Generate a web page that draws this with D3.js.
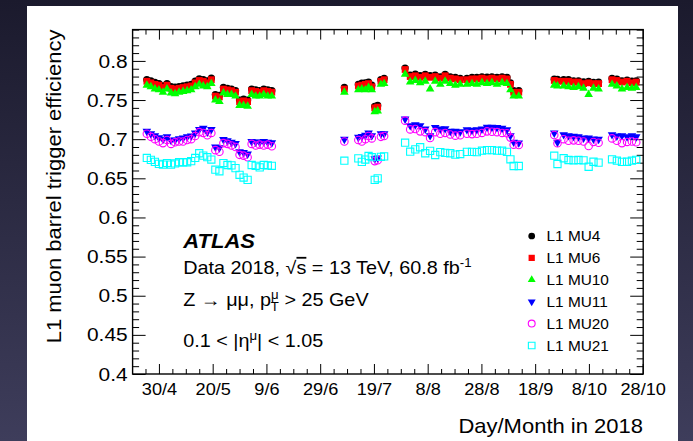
<!DOCTYPE html>
<html>
<head>
<meta charset="utf-8">
<script src="https://cdn.jsdelivr.net/npm/d3@7"></script>
<style>
  body { margin: 0; }
  text { font-family: "Liberation Sans", Arial, sans-serif; fill: #000; }
</style>
</head>
<body>
<div id="chart"></div>
<script>
//Run dates, in days counted from 30 April 2018
var days = [-4.5,-3,-1.5,0,1.5,3,4.5,6,7.5,9,10.5,12,13.5,15,16.5,18,19.5,21,22.5,24,25.5,27,28.5,30,31.5,33,34.5,36,37.5,39,40.5,42,
  69.0,74.2,75.5,76.8,78.0,79.2,80.3,81.4,82.6,83.8,
  91.6,93.5,95.4,97.2,99.1,100.9,102.8,104.7,106.5,108.4,110.3,112.1,114.6,116.5,118.3,120.2,122.1,123.9,125.8,127.7,129.5,130.8,132.0,133.9,
  147.1,148.3,150.6,152.4,154.3,156.1,158.0,159.9,161.7,163.6,168.6,170.4,172.3,174.2,176.0,177.6];

//Efficiency per trigger item
var mu4 = [.776,.7745,.7725,.771,.768,.771,.767,.7665,.767,.768,.769,.770,.774,.777,.776,.7745,.778,.757,.756,.766,.765,.764,.762,.750,.751,.750,.764,.763,.762,.764,.763,.762,
  .766,.770,.7715,.772,.773,.769,.742,.743,.776,.7775,
  .7908,.7818,.7831,.781,.7826,.781,.7818,.7797,.7826,.7797,.7789,.7776,.7776,.7789,.7789,.7797,.7793,.7797,.7789,.7797,.7789,.772,.762,.762,
  .7767,.7765,.7759,.7759,.7746,.7746,.7733,.7738,.7725,.773,.7776,.7767,.7746,.7755,.774,.7746];
var mu6 = [.774,.772,.770,.769,.766,.769,.765,.764,.765,.766,.767,.768,.772,.775,.774,.772,.776,.755,.754,.764,.763,.762,.760,.748,.749,.748,.762,.761,.760,.762,.761,.760,
  .764,.768,.769,.770,.771,.767,.740,.741,.774,.776,
  .789,.780,.781,.779,.781,.779,.780,.778,.781,.778,.777,.776,.776,.777,.777,.778,.777,.778,.777,.778,.777,.770,.760,.760,
  .775,.774,.774,.774,.773,.773,.771,.772,.771,.771,.776,.775,.773,.774,.772,.773];
var mu10 = [.769,.767,.764,.763,.760,.764,.759,.758,.760,.761,.762,.763,.767,.770,.768,.767,.771,.750,.748,.759,.757,.757,.755,.743,.743,.742,.757,.755,.755,.757,.755,.755,
  .760,.763,.764,.763,.766,.763,.735,.736,.770,.771,
  .783,.773,.775,.772,.774,.764,.774,.770,.774,.771,.769,.770,.770,.771,.770,.772,.771,.772,.770,.772,.771,.763,.755,.755,
  .769,.768,.768,.767,.766,.767,.765,.757,.765,.764,.770,.768,.764,.766,.765,.766];
var mu11 = [.710,.707,.7045,.702,.700,.703,.6985,.699,.7005,.7015,.703,.704,.708,.7125,.714,.709,.7125,.690,.689,.6995,.698,.696,.6945,.684,.683,.681,.697,.6965,.696,.697,.696,.6955,
  .700,.7025,.7035,.705,.708,.7045,.675,.676,.707,.707,
  .7258,.7173,.7185,.7173,.713,.7045,.715,.713,.7135,.7101,.7101,.7095,.7122,.7115,.7122,.713,.7153,.7153,.715,.714,.7122,.7045,.6962,.6953,
  .708,.696,.7058,.7045,.7037,.703,.7016,.7016,.7003,.700,.7058,.704,.7045,.703,.7045,.703];
var mu20 = [.707,.703,.700,.697,.695,.699,.694,.696,.697,.697,.699,.700,.704,.709,.708,.705,.708,.686,.684,.695,.694,.692,.690,.680,.679,.677,.694,.692,.693,.692,.693,.691,
  .697,.699,.697,.700,.704,.701,.672,.673,.703,.704,
  .7237,.7125,.713,.710,.709,.7015,.709,.707,.708,.706,.7045,.705,.707,.7065,.707,.708,.710,.7095,.709,.708,.7075,.702,.693,.6925,
  .7054,.6948,.700,.698,.6985,.698,.697,.6913,.6965,.6955,.701,.698,.695,.6965,.697,.696];
var mu21 = [.676,.6735,.671,.6685,.6675,.6695,.6675,.669,.6705,.6705,.6705,.672,.676,.682,.679,.677,.674,.661,.659,.6695,.667,.6665,.663,.6545,.651,.648,.667,.666,.664,.667,.6665,.666,
  .6725,.6755,.671,.674,.6785,.677,.648,.650,.6775,.678,
  .6955,.684,.687,.6897,.682,.685,.6798,.6835,.6825,.682,.6802,.681,.6838,.6838,.6835,.6853,.686,.686,.6853,.6853,.6838,.6743,.6657,.6657,
  .6789,.6683,.6756,.6734,.673,.6734,.673,.6648,.6712,.670,.6743,.6725,.671,.6712,.6725,.6735];

var seriesNames = ["L1 MU4", "L1 MU6", "L1 MU10", "L1 MU11", "L1 MU20", "L1 MU21"];
var seriesValues = [mu4, mu6, mu10, mu11, mu20, mu21];

//Axis ticks
var xTickDays = [0, 20, 40, 60, 80, 100, 120, 140, 160, 180];
var xTickLabels = ["30/4", "20/5", "9/6", "29/6", "19/7", "8/8", "28/8", "18/9", "8/10", "28/10"];
var yTickValues = [0.4, 0.45, 0.5, 0.55, 0.6, 0.65, 0.7, 0.75, 0.8];
var yTickLabels = ["0.4", "0.45", "0.5", "0.55", "0.6", "0.65", "0.7", "0.75", "0.8"];

//Marker styles (ROOT style: full circle, full square, triangles, open circle, open square)
var markers = [
  {type: d3.symbolCircle, size: 42, fill: "#000000", stroke: "none", rot: 0},
  {type: d3.symbolSquare, size: 46, fill: "#ff0000", stroke: "none", rot: 0},
  {type: d3.symbolTriangle, size: 32, fill: "#00ff00", stroke: "none", rot: 0},
  {type: d3.symbolTriangle, size: 32, fill: "#0000ff", stroke: "none", rot: 180},
  {type: d3.symbolCircle, size: 44, fill: "none", stroke: "#ff00ff", rot: 0},
  {type: d3.symbolSquare, size: 52, fill: "none", stroke: "#00ffff", rot: 0}
];

var W = 693, H = 441;
var stretch = 1.1;   //the original font runs a little wider than Liberation Sans

var svg = d3.select("#chart").append("svg")
    .attr("width", W)
    .attr("height", H);

//dark slide background and white canvas
var defs = svg.append("defs");
var grad = defs.append("linearGradient")
    .attr("id", "bg").attr("x1", 0).attr("y1", 0).attr("x2", 0).attr("y2", 1);
grad.append("stop").attr("offset", "0%").attr("stop-color", "#1b1a2d");
grad.append("stop").attr("offset", "100%").attr("stop-color", "#3e3d5b");
svg.append("rect").attr("width", W).attr("height", H).attr("fill", "url(#bg)");
svg.append("rect").attr("x", 27).attr("y", 6).attr("width", 651).attr("height", H - 6).attr("fill", "#ffffff");

var frame = {left: 132.6, right: 643.2, top: 29.6, bottom: 374};

var x = d3.scaleLinear().domain([-9.8, 180.2]).range([frame.left, frame.right]);
var y = d3.scaleLinear().domain([0.4, 0.84]).range([frame.bottom, frame.top]);

var xMinor = d3.range(-5, 181, 5).filter(function(d){ return xTickDays.indexOf(d) < 0; });
var yMinor = d3.range(0, 45).map(function(i){ return +(0.4 + i * 0.01).toFixed(2); })
    .filter(function(v){ return Math.round(v * 100) % 5 !== 0; });

//helper: stretched text at a point
function addText(parent, px, py, anchor, size, str) {
  return parent.append("text")
    .attr("transform", "translate(" + px + "," + py + ") scale(" + stretch + ",1)")
    .attr("text-anchor", anchor)
    .style("font-size", size + "px")
    .text(str || null);
}

///////////////////////////////////////////////////////////////////////////
///////////////////////////////// Axes ////////////////////////////////////
///////////////////////////////////////////////////////////////////////////

function tickAxis(axis, tr, vals, len) {
  var g = svg.append("g").attr("transform", tr)
    .call(axis.tickValues(vals).tickSizeInner(-len).tickSizeOuter(0).tickFormat(""));
  g.select(".domain").remove();
  g.selectAll("line").attr("stroke", "#000").attr("stroke-width", 1);
  return g;
}

//minor ticks all around
tickAxis(d3.axisBottom(x), "translate(0," + frame.bottom + ")", xMinor, 5);
tickAxis(d3.axisTop(x), "translate(0," + frame.top + ")", xMinor, 5);
tickAxis(d3.axisLeft(y), "translate(" + frame.left + ",0)", yMinor, 6.5);
tickAxis(d3.axisRight(y), "translate(" + frame.right + ",0)", yMinor, 6.5);
//major ticks
tickAxis(d3.axisTop(x), "translate(0," + frame.top + ")", xTickDays, 10);
tickAxis(d3.axisRight(y), "translate(" + frame.right + ",0)", yTickValues, 13);

var xAxis = svg.append("g")
    .attr("transform", "translate(0," + frame.bottom + ")")
    .call(d3.axisBottom(x)
      .tickValues(xTickDays)
      .tickSizeInner(-10).tickSizeOuter(0).tickPadding(9.5)
      .tickFormat(function(d, i){ return xTickLabels[i]; }));
xAxis.select(".domain").remove();
xAxis.selectAll("line").attr("stroke", "#000");
xAxis.selectAll("text")
    .attr("fill", "#000")
    .style("font-size", "16.5px")
    .style("font-family", "Liberation Sans, Arial, sans-serif")
    .attr("transform", "scale(" + stretch + ",1)");

var yAxis = svg.append("g")
    .attr("transform", "translate(" + frame.left + ",0)")
    .call(d3.axisLeft(y)
      .tickValues(yTickValues)
      .tickSizeInner(-13).tickSizeOuter(0).tickPadding(4.5)
      .tickFormat(function(d, i){ return yTickLabels[i]; }));
yAxis.select(".domain").remove();
yAxis.selectAll("line").attr("stroke", "#000");
yAxis.selectAll("text")
    .attr("fill", "#000")
    .style("font-size", "19px")
    .style("font-family", "Liberation Sans, Arial, sans-serif")
    .attr("transform", "scale(" + stretch + ",1)");

//frame
svg.append("rect")
    .attr("x", frame.left).attr("y", frame.top)
    .attr("width", frame.right - frame.left)
    .attr("height", frame.bottom - frame.top)
    .attr("fill", "none")
    .attr("stroke", "#000")
    .attr("stroke-width", 1.4);

//axis titles
addText(svg, 643, 432.5, "end", 20, "Day/Month in 2018");
svg.append("text")
    .attr("transform", "translate(60.5," + frame.top + ") rotate(-90) scale(" + stretch + ",1)")
    .attr("text-anchor", "end")
    .style("font-size", "20px")
    .text("L1 muon barrel trigger efficiency");

///////////////////////////////////////////////////////////////////////////
//////////////////////////////// Markers //////////////////////////////////
///////////////////////////////////////////////////////////////////////////

function symbolPath(m) {
  return d3.symbol().type(m.type).size(m.size)();
}

seriesValues.forEach(function(vals, s) {
  var m = markers[s];
  svg.append("g")
    .selectAll("path")
    .data(vals)
    .enter().append("path")
    .attr("d", symbolPath(m))
    .attr("transform", function(d, i) {
      return "translate(" + x(days[i]) + "," + y(d) + ") rotate(" + m.rot + ")";
    })
    .attr("fill", m.fill)
    .attr("stroke", m.stroke)
    .attr("stroke-width", 1.1);
});

///////////////////////////////////////////////////////////////////////////
///////////////////////////// Legend and labels ///////////////////////////
///////////////////////////////////////////////////////////////////////////

var legend = svg.append("g");
seriesNames.forEach(function(name, s) {
  var m = markers[s];
  var ly = 236 + s * 21.9;
  legend.append("path")
    .attr("d", d3.symbol().type(m.type).size(m.size * 0.85)())
    .attr("transform", "translate(531.7," + ly + ") rotate(" + m.rot + ")")
    .attr("fill", m.fill)
    .attr("stroke", m.stroke)
    .attr("stroke-width", 1.1);
  addText(legend, 546.5, ly + 5, "start", 14, name);
});

addText(svg, 183.3, 248.3, "start", 20, "ATLAS")
    .style("font-weight", "bold")
    .style("font-style", "italic");

var t1 = addText(svg, 183.3, 274, "start", 18);
t1.append("tspan").text("Data 2018, \u221A");
t1.append("tspan").style("text-decoration", "overline").text("s");
t1.append("tspan").text(" = 13 TeV, 60.8 fb");
t1.append("tspan").attr("dy", -7).style("font-size", "12px").text("-1");

var t2 = addText(svg, 183.3, 306, "start", 18);
t2.append("tspan").text("Z \u2192 \u03BC\u03BC, p");
t2.append("tspan").attr("dy", -7).style("font-size", "12px").text("\u03BC");
t2.append("tspan").attr("dx", -7).attr("dy", 12).style("font-size", "12px").text("T");
t2.append("tspan").attr("dy", -5).text(" > 25 GeV");

var t3 = addText(svg, 183.3, 346.7, "start", 18);
t3.append("tspan").text("0.1 < |\u03B7");
t3.append("tspan").attr("dy", -7).style("font-size", "12px").text("\u03BC");
t3.append("tspan").attr("dy", 7).text("| < 1.05");
</script>
</body>
</html>
